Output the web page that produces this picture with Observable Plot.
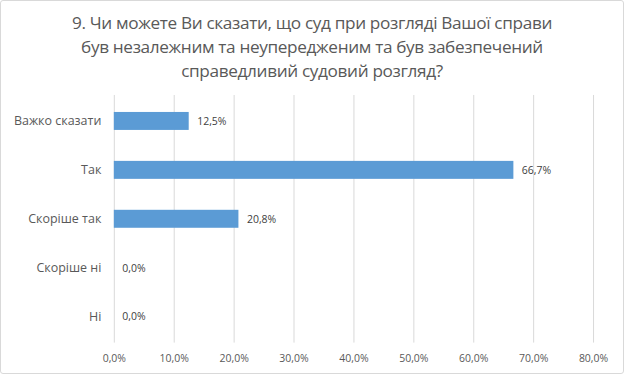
<!DOCTYPE html>
<html><head><meta charset="utf-8">
<script src="https://cdn.jsdelivr.net/npm/d3@7"></script>
<script src="https://cdn.jsdelivr.net/npm/@observablehq/plot@0.6"></script>
<style>
body{margin:0;background:#fff;}
#wrap{position:relative;width:624px;height:374px;box-sizing:border-box;border:1px solid #d9d9d9;border-radius:3px;overflow:hidden;font-family:"Open Sans",sans-serif;}
#title{position:absolute;left:0;top:10px;width:622px;text-align:center;font-size:17.2px;line-height:24px;color:#595959;letter-spacing:-0.35px;}
#chart{position:absolute;left:-1px;top:84px;}
</style></head>
<body><div id="wrap"><div id="title">9. Чи можете Ви сказати, що суд при розгляді Вашої справи<br>був незалежним та неупередженим та був забезпечений<br>справедливий судовий розгляд?</div><div id="chart"></div></div>
<script>
const categories = ["Важко сказати","Так","Скоріше так","Скоріше ні","Ні"];
const values = [0.125, 0.667, 0.208, 0.0, 0.0];
const xTicks = [0,0.1,0.2,0.3,0.4,0.5,0.6,0.7,0.8];
const data = categories.map((c,i)=>({cat:c, v:values[i]}));
const fmt = v => (v*100).toFixed(1).replace(".", ",") + "%";
const plot = Plot.plot({
  width: 624, height: 290,
  marginTop: 10, marginBottom: 32, marginLeft: 114, marginRight: 30,
  style: {fontFamily: "Open Sans, sans-serif", background: "transparent", overflow: "visible"},
  x: {domain: [0, 0.8], ticks: xTicks, tickFormat: fmt, label: null},
  y: {domain: categories, label: null, paddingInner: 0.63, paddingOuter: 0.33},
  marks: [
    Plot.ruleX(xTicks, {stroke: "#d9d9d9", strokeWidth: 1}),
    Plot.barX(data, {x: "v", y: "cat", fill: "#5b9bd5"}),
    Plot.text(data, {x: "v", y: "cat", text: d => fmt(d.v), textAnchor: "start", dx: 8, fill: "#404040", fontSize: 10.5}),
    Plot.axisX({ticks: xTicks, tickFormat: fmt, tickSize: 0, tickPadding: 11, fontSize: 10.5, color: "#595959", label: null}),
    Plot.axisY({tickSize: 0, tickPadding: 13, fontSize: 12.5, color: "#595959", label: null})
  ]
});
document.getElementById("chart").appendChild(plot);
</script></body></html>
